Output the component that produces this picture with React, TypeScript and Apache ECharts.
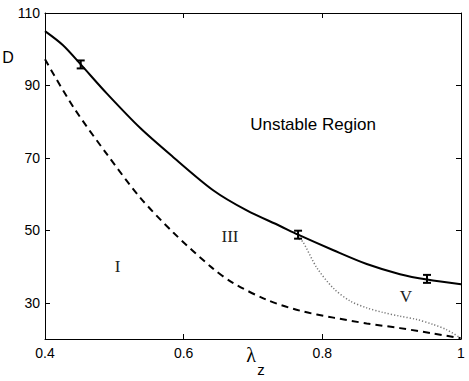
import React, { useEffect, useRef } from "react";
import * as echarts from "echarts";

const xTicks = [0.4, 0.6, 0.8, 1.0];
const yTicks = [30, 50, 70, 90, 110];

const solidX = [0.4, 0.426, 0.4515, 0.489, 0.537, 0.585, 0.643, 0.691, 0.739, 0.765, 0.816, 0.864, 0.912, 0.951, 1.0];
const solidY = [105.0, 101.1, 95.8, 87.8, 78.3, 70.2, 61.0, 55.5, 51.2, 48.8, 44.5, 40.7, 37.9, 36.4, 35.1];

const dashedX = [0.4, 0.441, 0.489, 0.537, 0.585, 0.642, 0.671, 0.72, 0.768, 0.816, 0.864, 0.912, 0.96, 1.0];
const dashedY = [97.2, 84.0, 71.1, 59.1, 49.4, 39.5, 35.5, 30.8, 27.8, 25.9, 24.3, 23.0, 21.5, 20.2];

const dottedX = [0.766, 0.772, 0.792, 0.816, 0.84, 0.864, 0.888, 0.912, 0.936, 0.96, 0.979, 1.0];
const dottedY = [47.6, 46.8, 39.7, 34.0, 30.5, 28.6, 27.3, 26.3, 25.4, 24.0, 22.6, 20.2];

const errX = [0.4515, 0.765, 0.951];
const errY = [95.8, 48.8, 36.6];
const errD = [1.1, 1.1, 1.1];

const regionLabels = ["Unstable Region", "I", "III", "V"];

const zip = (xs: number[], ys: number[]) => xs.map((x, i) => [x, ys[i]]);

export default function App() {
  const ref = useRef<HTMLDivElement>(null);
  useEffect(() => {
    if (!ref.current) return;
    const chart = echarts.init(ref.current, null, { renderer: "svg" });
    const sans = "Liberation Sans";
    const serif = "Liberation Serif";
    const axisLine = { show: true, onZero: false, lineStyle: { color: "#000", width: 1 } };
    const xFmt = (v: number) => String(+v.toFixed(1));
    chart.setOption({
      animation: false,
      backgroundColor: "#fff",
      grid: { left: 45, right: 8, top: 13, bottom: 42, containLabel: false },
      xAxis: [
        {
          type: "value", min: 0.4, max: 1, interval: 0.2, position: "bottom",
          axisLine, splitLine: { show: false },
          axisTick: { show: true, inside: true, length: 5, lineStyle: { color: "#000" } },
          axisLabel: { formatter: xFmt, color: "#000", fontSize: 14, fontFamily: sans, margin: 7 },
        },
        {
          type: "value", min: 0.4, max: 1, interval: 0.2, position: "top",
          axisLine, splitLine: { show: false },
          axisTick: { show: true, inside: true, length: 5, lineStyle: { color: "#000" } },
          axisLabel: { show: false },
        },
      ],
      yAxis: [
        {
          type: "value", min: 20, max: 110, position: "left",
          axisLine, splitLine: { show: false },
          axisTick: { show: true, inside: true, length: 5, customValues: yTicks, lineStyle: { color: "#000" } },
          axisLabel: { customValues: yTicks, color: "#000", fontSize: 14, fontFamily: sans, margin: 5 },
        },
        {
          type: "value", min: 20, max: 110, position: "right",
          axisLine, splitLine: { show: false },
          axisTick: { show: true, inside: true, length: 5, customValues: yTicks, lineStyle: { color: "#000" } },
          axisLabel: { show: false, customValues: yTicks },
        },
      ],
      series: [
        {
          type: "line", data: zip(solidX, solidY), showSymbol: false, smooth: 0.3,
          lineStyle: { color: "#000", width: 2 },
        },
        {
          type: "line", data: zip(dashedX, dashedY), showSymbol: false, smooth: 0.3,
          lineStyle: { color: "#000", width: 2, type: [7, 5] },
        },
        {
          type: "line", data: zip(dottedX, dottedY), showSymbol: false, smooth: 0.3,
          lineStyle: { color: "#777", width: 1.5, type: [1.2, 2] },
        },
        {
          type: "custom",
          data: errX.map((x, i) => [x, errY[i], errD[i]]),
          encode: { x: 0, y: 1 },
          z: 5,
          renderItem: (params: any, api: any) => {
            const x = api.value(0), y = api.value(1), d = api.value(2);
            const t = api.coord([x, y + d]);
            const b = api.coord([x, y - d]);
            const w = 4;
            const st = { stroke: "#000", lineWidth: 2 };
            return {
              type: "group",
              children: [
                { type: "line", shape: { x1: t[0], y1: t[1], x2: b[0], y2: b[1] }, style: st },
                { type: "line", shape: { x1: t[0] - w, y1: t[1], x2: t[0] + w, y2: t[1] }, style: st },
                { type: "line", shape: { x1: b[0] - w, y1: b[1], x2: b[0] + w, y2: b[1] }, style: st },
              ],
            };
          },
        },
      ],
      graphic: [
        { type: "text", x: 8, y: 57, style: { text: "D", fontSize: 16, fontFamily: sans, fill: "#000", align: "center", verticalAlign: "middle" } },
        { type: "text", x: 251, y: 355, style: { text: "λ", fontSize: 20, fontFamily: serif, fill: "#000", align: "center", verticalAlign: "middle" } },
        { type: "text", x: 261, y: 369, style: { text: "z", fontSize: 15, fontFamily: sans, fill: "#000", align: "center", verticalAlign: "middle" } },
        { type: "text", x: 313, y: 124, style: { text: regionLabels[0], fontSize: 17, fontFamily: sans, fill: "#000", align: "center", verticalAlign: "middle" } },
        { type: "text", x: 117.5, y: 266, style: { text: regionLabels[1], fontSize: 17, fontFamily: serif, fill: "#222", align: "center", verticalAlign: "middle" } },
        { type: "text", x: 230, y: 236, style: { text: regionLabels[2], fontSize: 17, fontFamily: serif, fill: "#222", align: "center", verticalAlign: "middle" } },
        { type: "text", x: 406, y: 296, style: { text: regionLabels[3], fontSize: 17, fontFamily: serif, fill: "#222", align: "center", verticalAlign: "middle" } },
      ],
    });
    return () => chart.dispose();
  }, []);
  return (
    <div
      ref={ref}
      style={{ position: "fixed", left: 0, top: 0, width: 469, height: 381, background: "#fff" }}
    />
  );
}
